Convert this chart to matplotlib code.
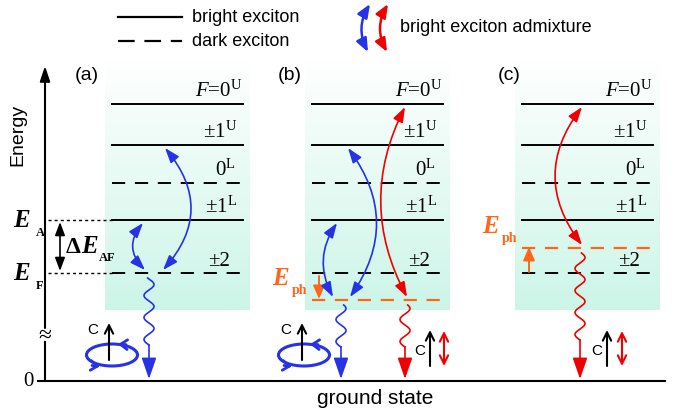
import numpy as np
import matplotlib.pyplot as plt
from matplotlib.patches import FancyArrowPatch, Ellipse

plt.rcParams['font.family'] = ['Liberation Sans', 'DejaVu Sans']
plt.rcParams['mathtext.fontset'] = 'custom'
plt.rcParams['mathtext.rm'] = 'Liberation Serif'
plt.rcParams['mathtext.it'] = 'Liberation Serif:italic'
plt.rcParams['mathtext.bf'] = 'Liberation Serif:bold'
plt.rcParams['lines.scale_dashes'] = False

BLUE = '#2532e6'
RED = '#f00000'
ORANGE = '#ff6619'
MINT = np.array([204, 245, 232]) / 255.0
SERIF = 'Liberation Serif'
DASH = (0, (9.5, 7.0))

# exciton levels (sketch height, top = higher energy)
level_labels = ['$F$=0$^{\\mathrm{U}}$', '±1$^{\\mathrm{U}}$', '0$^{\\mathrm{L}}$',
                '±1$^{\\mathrm{L}}$', '±2']
level_y = [104, 145, 183, 220, 273]
level_bright = [True, True, False, True, False]
label_dx = [130, 125, 124, 125, 118]

panel_names = ['(a)', '(b)', '(c)']
panel_x = [112, 312, 522]
panel_label_x = [87, 290, 509]
level_w = 131
phonon_y = [None, 300, 248]
ground_y = 381

# admixture arrows: panel, upper level, lower level ('ph' = phonon replica),
# x offset top, x offset bottom, bend, colour
admix = [
    (0, 1, 4, 53, 51, -0.43, BLUE),
    (0, 3, 4, 31, 33, 0.45, BLUE),
    (1, 3, 'ph', 25, 21, 0.30, BLUE),
    (1, 1, 'ph', 36, 38, -0.36, BLUE),
    (1, 0, 'ph', 93, 95, 0.26, RED),
    (2, 0, 'ph', 60, 60, 0.38, RED),
]

# emission: panel, x offset, start y, end of wave, colour
emission = [
    (0, 37, 278, 345, BLUE),
    (1, 29, 305, 347, BLUE),
    (1, 93, 305, 347, RED),
    (2, 58, 253, 340, RED),
]

fig = plt.figure(figsize=(6.89, 4.20), dpi=100)
ax = fig.add_axes([0, 0, 1, 1])
ax.axis('off')


def arrow(p0, p1, style, color, lw=1.2, rad=0.0, ms=10, z=5):
    a = FancyArrowPatch(p0, p1, arrowstyle=style, color=color, lw=lw,
                        connectionstyle=f'arc3,rad={rad}', mutation_scale=ms,
                        shrinkA=0, shrinkB=0, zorder=z)
    ax.add_patch(a)


# shaded panels
grad = np.linspace(0, 1, 200)[:, None, None]
img = (1 - grad) * np.ones(3) + grad * MINT
for px in panel_x:
    ax.imshow(img, extent=(px - 7, px + level_w + 7, 310, 60), aspect='auto',
              interpolation='bilinear', zorder=0)

# levels
for i, px in enumerate(panel_x):
    for lab, y, bright, dx in zip(level_labels, level_y, level_bright, label_dx):
        ax.plot([px, px + level_w], [y, y], color='black', lw=1.4,
                ls='-' if bright else DASH, zorder=2)
        ax.text(px + dx, y - 7, lab, ha='right', va='baseline', fontsize=15,
                family=SERIF, zorder=3)
    ax.text(panel_label_x[i], 75, panel_names[i], ha='center', va='center',
            fontsize=14)
    if phonon_y[i] is not None:
        ax.plot([px, px + level_w], [phonon_y[i], phonon_y[i]], color=ORANGE,
                lw=1.6, ls=DASH, zorder=2)
        y0 = level_y[4] + (3 if phonon_y[i] > level_y[4] else -1)
        arrow((px + 7, y0), (px + 7, phonon_y[i] - 1),
              '-|>,head_length=0.8,head_width=0.35', ORANGE, lw=1.4)
        ex = px - 40
        ax.text(ex, phonon_y[i] - 15, 'E', color=ORANGE, fontsize=18,
                family=SERIF, weight='bold', style='italic', va='baseline')
        ax.text(ex + 20, phonon_y[i] - 6, 'ph', color=ORANGE, fontsize=10,
                family=SERIF, weight='bold', va='baseline')

# admixture arrows
for p, top, bot, dxt, dxb, rad, col in admix:
    px = panel_x[p]
    yb = phonon_y[p] if bot == 'ph' else level_y[bot]
    arrow((px + dxt, level_y[top] + 3), (px + dxb, yb - 3),
          '<|-|>,head_length=0.9,head_width=0.32', col, lw=1.2, rad=rad)

# emission wavy arrows
for p, dx, ys, ye, col in emission:
    xc = panel_x[p] + dx
    yy = np.linspace(ys, ye, 200)
    xx = xc - 5 * np.sin(2 * np.pi * (ye - yy) / 22.0)
    ax.plot(xx, yy, color=col, lw=1.2, zorder=4)
    arrow((xc, ye), (xc, ground_y - 2), '-|>,head_length=1.3,head_width=0.45',
          col, lw=1.2)

# circular polarisation (bright admixture)
for cx, ax_x in [(112, 109), (304, 302)]:
    ax.add_patch(Ellipse((cx, 355), 51, 22, fill=False, ec=BLUE, lw=2.2, zorder=4))
    arrow((cx + 14, 344.6), (cx + 6, 344.2), '->,head_length=0.5,head_width=0.35',
          BLUE, lw=2.0)
    arrow((cx - 20, 365.5), (cx - 12, 366.2), '->,head_length=0.5,head_width=0.35',
          BLUE, lw=2.0)
    arrow((ax_x, 360), (ax_x, 323), '->,head_length=0.6,head_width=0.3', 'black',
          lw=1.5, z=6)
    ax.text(ax_x - 16, 330, 'C', fontsize=11, ha='center', va='center')

# linear polarisation (dark admixture)
for bx, rx in [(430, 444), (607, 622)]:
    arrow((bx, 366), (bx, 330), '->,head_length=0.6,head_width=0.3', 'black', lw=1.5)
    arrow((rx, 331), (rx, 366), '<->,head_length=0.6,head_width=0.3', RED, lw=1.5)
    ax.text(bx - 10, 351, 'C', fontsize=11, ha='center', va='center')

# energy axis
ax.plot([38, 665], [ground_y, ground_y], color='black', lw=1.5)
ax.plot([45, 45], [ground_y, 342], color='black', lw=1.5)
arrow((45, 328), (45, 66), '-|>,head_length=0.9,head_width=0.3', 'black', lw=1.5)
ax.text(45, 336, '≈', fontsize=17, ha='center', va='center', family=SERIF)
ax.text(28, ground_y, '0', fontsize=15, ha='center', va='center', family=SERIF)
ax.text(18, 135, 'Energy', fontsize=14, rotation=90, ha='center', va='center')
ax.text(375, 398, 'ground state', fontsize=15, ha='center', va='center')

# E_A, E_F and Delta E_AF
for y, sub in [(level_y[3], 'A'), (level_y[4], 'F')]:
    ax.plot([48, panel_x[0]], [y, y], color='black', lw=1.0, ls=(0, (2.2, 2.2)))
    ax.text(13, y + 7, 'E', fontsize=18, family=SERIF, weight='bold',
            style='italic', va='baseline')
    ax.text(36, y + 16, sub, fontsize=9, family=SERIF, weight='bold',
            va='baseline')
arrow((60, level_y[3] + 2), (60, level_y[4] - 2),
      '<|-|>,head_length=0.8,head_width=0.3', 'black', lw=1.2)
ax.text(66, 253, 'Δ', fontsize=17, family=SERIF, weight='bold', va='baseline')
ax.text(81, 253, 'E', fontsize=18, family=SERIF, weight='bold', style='italic',
        va='baseline')
ax.text(99, 261, 'AF', fontsize=9, family=SERIF, weight='bold', va='baseline')

# legend
ax.plot([118, 182], [17, 17], color='black', lw=1.6)
ax.plot([118, 182], [41, 41], color='black', lw=1.6, ls=(0, (12, 7)))
ax.text(192, 17, 'bright exciton', fontsize=13, va='center')
ax.text(192, 41, 'dark exciton', fontsize=13, va='center')
arrow((370, 4), (368, 52), '<|-|>,head_length=0.8,head_width=0.33', BLUE, lw=1.8,
      rad=0.28)
arrow((388, 4), (387, 52), '<|-|>,head_length=0.8,head_width=0.33', RED, lw=1.8,
      rad=0.28)
ax.text(400, 27, 'bright exciton admixture', fontsize=13, va='center')

ax.set_xlim(0, 689)
ax.set_ylim(420, 0)
fig.savefig('out.png', dpi=100)
